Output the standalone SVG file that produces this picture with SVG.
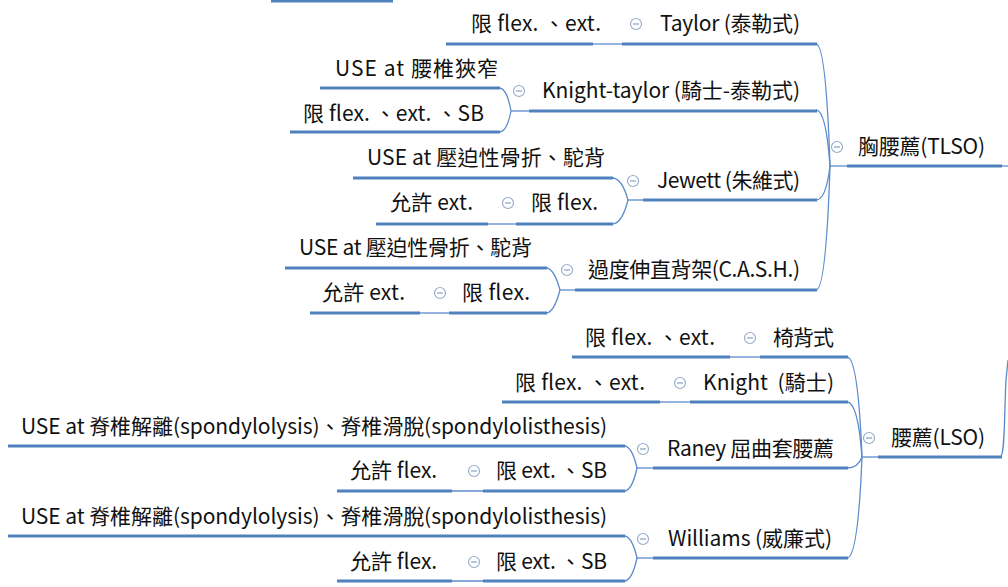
<svg xmlns="http://www.w3.org/2000/svg" width="1008" height="587" viewBox="0 0 1008 587">
<defs>
<style>
.t{font-family:"Noto Sans CJK TC","Noto Sans",sans-serif;font-size:21px;fill:#111;white-space:pre}
.u{stroke:#4F81BD;stroke-width:3;fill:none;stroke-linecap:butt}
.c{stroke:#5B8BCB;stroke-width:1.3;fill:none}
.i circle{fill:#fff;stroke:#98AECB;stroke-width:1.2}
.i line{stroke:#98AECB;stroke-width:1.4}
</style>
<g id="ic" class="i"><circle cx="0" cy="0" r="5.5"/><line x1="-3" y1="0" x2="3" y2="0"/></g>
</defs>
<rect width="1008" height="587" fill="#fff"/>

<g id="connectors">
<line class="c" x1="1000" y1="166" x2="1008" y2="166"/>
<path class="c" d="M1000,457 C1005,457 1004,420 1006,380 L1008,360"/>
<line class="c" x1="830" y1="166" x2="848" y2="166"/>
<path class="c" d="M830,166 Q826,44 816,44"/>
<path class="c" d="M830,166 Q826,110 816,110"/>
<path class="c" d="M830,166 Q826,200 816,200"/>
<path class="c" d="M830,166 Q826,290 816,290"/>
<line class="c" x1="592" y1="44" x2="623" y2="44"/>
<line class="c" x1="511" y1="111" x2="530" y2="111"/>
<path class="c" d="M511,111 Q507,88 499,88"/>
<path class="c" d="M511,111 Q507,132 499,132"/>
<line class="c" x1="628" y1="200" x2="644" y2="200"/>
<path class="c" d="M628,200 Q622,178 612,178"/>
<path class="c" d="M628,200 Q622,224 612,224"/>
<line class="c" x1="487" y1="224" x2="517" y2="224"/>
<line class="c" x1="560" y1="290" x2="576" y2="290"/>
<path class="c" d="M560,290 Q554,268 546,268"/>
<path class="c" d="M560,290 Q554,313 546,313"/>
<line class="c" x1="419" y1="313" x2="450" y2="313"/>
<line class="c" x1="862" y1="457" x2="879" y2="457"/>
<path class="c" d="M862,457 Q858,357 847,357"/>
<path class="c" d="M862,457 Q858,402 847,402"/>
<path class="c" d="M862,457 Q858,468 847,468"/>
<path class="c" d="M862,457 Q858,558 847,558"/>
<line class="c" x1="729" y1="357" x2="761" y2="357"/>
<line class="c" x1="659" y1="402" x2="691" y2="402"/>
<line class="c" x1="637" y1="468" x2="654" y2="468"/>
<path class="c" d="M637,468 Q632,446 624,446"/>
<path class="c" d="M637,468 Q632,491 624,491"/>
<line class="c" x1="451" y1="491" x2="484" y2="491"/>
<line class="c" x1="637" y1="558" x2="654" y2="558"/>
<path class="c" d="M637,558 Q632,536 624,536"/>
<path class="c" d="M637,558 Q632,581 624,581"/>
<line class="c" x1="451" y1="581" x2="484" y2="581"/>
</g>

<g id="stray"><line class="u" x1="271" y1="1" x2="393" y2="1"/></g>

<g id="tlso"><line class="u" x1="847" y1="166" x2="1002" y2="166"/><use href="#ic" x="837" y="147"/><text class="t" x="858" y="154" textLength="127">胸腰薦(TLSO)</text></g>

<g id="taylor"><line class="u" x1="622" y1="44" x2="817" y2="44"/><use href="#ic" x="636" y="24"/><text class="t" x="660" y="31" textLength="140">Taylor (泰勒式)</text></g>
<g id="taylor-1"><line class="u" x1="446" y1="44" x2="593" y2="44"/><text class="t" x="471" y="31" textLength="130">限 flex. 、ext.</text></g>

<g id="knight-taylor"><line class="u" x1="529" y1="111" x2="817" y2="111"/><use href="#ic" x="519" y="91"/><text class="t" x="542" y="98" textLength="258">Knight-taylor (騎士-泰勒式)</text></g>
<g id="kt-1"><line class="u" x1="320" y1="88" x2="500" y2="88"/><text class="t" x="335" y="76" textLength="163">USE at 腰椎狹窄</text></g>
<g id="kt-2"><line class="u" x1="290" y1="132" x2="500" y2="132"/><text class="t" x="303" y="121" textLength="181">限 flex. 、ext. 、SB</text></g>

<g id="jewett"><line class="u" x1="643" y1="200" x2="817" y2="200"/><use href="#ic" x="633" y="181"/><text class="t" x="657" y="188" textLength="143">Jewett (朱維式)</text></g>
<g id="j-1"><line class="u" x1="353" y1="178" x2="613" y2="178"/><text class="t" x="367" y="165" textLength="238">USE at 壓迫性骨折、駝背</text></g>
<g id="j-2"><line class="u" x1="516" y1="224" x2="613" y2="224"/><use href="#ic" x="508" y="203"/><text class="t" x="531" y="210" textLength="67">限 flex.</text></g>
<g id="j-2-1"><line class="u" x1="376" y1="224" x2="488" y2="224"/><text class="t" x="390" y="210" textLength="83">允許 ext.</text></g>

<g id="cash"><line class="u" x1="575" y1="290" x2="817" y2="290"/><use href="#ic" x="567" y="270"/><text class="t" x="588" y="277" textLength="212">過度伸直背架(C.A.S.H.)</text></g>
<g id="c-1"><line class="u" x1="285" y1="268" x2="547" y2="268"/><text class="t" x="299" y="255" textLength="233">USE at 壓迫性骨折、駝背</text></g>
<g id="c-2"><line class="u" x1="449" y1="313" x2="547" y2="313"/><use href="#ic" x="440" y="293"/><text class="t" x="462" y="300" textLength="68">限 flex.</text></g>
<g id="c-2-1"><line class="u" x1="310" y1="313" x2="420" y2="313"/><text class="t" x="322" y="300" textLength="83">允許 ext.</text></g>

<g id="lso"><line class="u" x1="878" y1="457" x2="1002" y2="457"/><use href="#ic" x="869" y="438"/><text class="t" x="891" y="445" textLength="94">腰薦(LSO)</text></g>

<g id="chair"><line class="u" x1="760" y1="357" x2="848" y2="357"/><use href="#ic" x="750" y="338"/><text class="t" x="773" y="345" textLength="61">椅背式</text></g>
<g id="chair-1"><line class="u" x1="572" y1="357" x2="730" y2="357"/><text class="t" x="585" y="345" textLength="130">限 flex. 、ext.</text></g>

<g id="knight"><line class="u" x1="690" y1="402" x2="848" y2="402"/><use href="#ic" x="680" y="383"/><text class="t" x="703" y="390" textLength="131">Knight  (騎士)</text></g>
<g id="knight-1"><line class="u" x1="502" y1="402" x2="660" y2="402"/><text class="t" x="515" y="390" textLength="130">限 flex. 、ext.</text></g>

<g id="raney"><line class="u" x1="653" y1="468" x2="848" y2="468"/><use href="#ic" x="643" y="449"/><text class="t" x="667" y="456" textLength="167">Raney 屈曲套腰薦</text></g>
<g id="r-1"><line class="u" x1="8" y1="446" x2="625" y2="446"/><text class="t" x="21" y="434" textLength="586">USE at 脊椎解離(spondylolysis)、脊椎滑脫(spondylolisthesis)</text></g>
<g id="r-2"><line class="u" x1="483" y1="491" x2="625" y2="491"/><use href="#ic" x="474" y="471"/><text class="t" x="496" y="478" textLength="111">限 ext. 、SB</text></g>
<g id="r-2-1"><line class="u" x1="337" y1="491" x2="452" y2="491"/><text class="t" x="350" y="478" textLength="87">允許 flex.</text></g>

<g id="williams"><line class="u" x1="653" y1="558" x2="848" y2="558"/><use href="#ic" x="643" y="539"/><text class="t" x="668" y="546" textLength="164">Williams (威廉式)</text></g>
<g id="w-1"><line class="u" x1="8" y1="536" x2="625" y2="536"/><text class="t" x="21" y="524" textLength="586">USE at 脊椎解離(spondylolysis)、脊椎滑脫(spondylolisthesis)</text></g>
<g id="w-2"><line class="u" x1="483" y1="581" x2="625" y2="581"/><use href="#ic" x="474" y="562"/><text class="t" x="496" y="569" textLength="111">限 ext. 、SB</text></g>
<g id="w-2-1"><line class="u" x1="337" y1="581" x2="452" y2="581"/><text class="t" x="350" y="569" textLength="87">允許 flex.</text></g>
</svg>
